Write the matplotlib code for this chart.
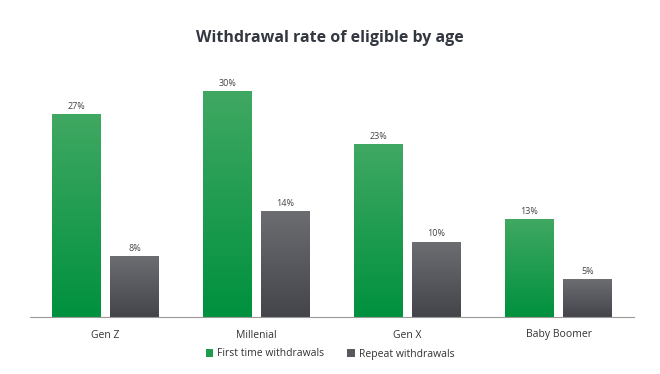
import numpy as np
import matplotlib.pyplot as plt
from matplotlib.colors import LinearSegmentedColormap

categories = ['Gen Z', 'Millenial', 'Gen X', 'Baby Boomer']
first_time = [27, 30, 23, 13]
repeat = [8, 14, 10, 5]
series_names = ['First time withdrawals', 'Repeat withdrawals']

plt.rcParams['font.family'] = ['Open Sans', 'DejaVu Sans']

fig = plt.figure(figsize=(6.6, 3.74), dpi=100)
ax = fig.add_axes([30/660, 57/374, 604/660, 264/374])

green = LinearSegmentedColormap.from_list('g', ['#00913e', '#40a862'])
gray = LinearSegmentedColormap.from_list('k', ['#44454b', '#6c6d71'])

x = np.arange(len(categories))
w = 0.318
off = 0.192
grad = np.linspace(0, 1, 256).reshape(-1, 1)

b1 = ax.bar(x - off, first_time, w, color='#1f9c4d', label=series_names[0])
b2 = ax.bar(x + off, repeat, w, color='#58595e', label=series_names[1])

for bars, cm in ((b1, green), (b2, gray)):
    for r in bars:
        x0, y0 = r.get_x(), r.get_y()
        ax.imshow(grad, cmap=cm, origin='lower', aspect='auto',
                  extent=(x0, x0 + r.get_width(), y0, y0 + r.get_height()),
                  zorder=2)
        ax.text(x0 + r.get_width() / 2, r.get_height() + 0.5,
                f'{r.get_height():.0f}%', ha='center', va='bottom',
                fontsize=6.5, color='#444444')

ax.set_xlim(-0.5, 3.5)
ax.set_ylim(0, 35.2)
ax.set_xticks(x)
ax.set_xticklabels(categories, fontsize=7.5, color='#333333')
ax.tick_params(axis='x', length=0, pad=9)
ax.set_yticks([])
for s in ['top', 'right', 'left']:
    ax.spines[s].set_visible(False)
ax.spines['bottom'].set_color('#999999')
ax.spines['bottom'].set_linewidth(0.8)

fig.text(0.5, 1 - 38/374, 'Withdrawal rate of eligible by age', ha='center',
         va='center', fontsize=11.5, fontweight='bold', color='#333840')

fig.legend(handles=[b1, b2], labels=series_names, loc='center',
           bbox_to_anchor=(0.5, 1 - 354/374), ncol=2, frameon=False,
           fontsize=7.5, handlelength=0.7, handleheight=0.7, handletextpad=0.4,
           columnspacing=2.2, labelcolor='#333333')

fig.savefig('out.png', dpi=100)
